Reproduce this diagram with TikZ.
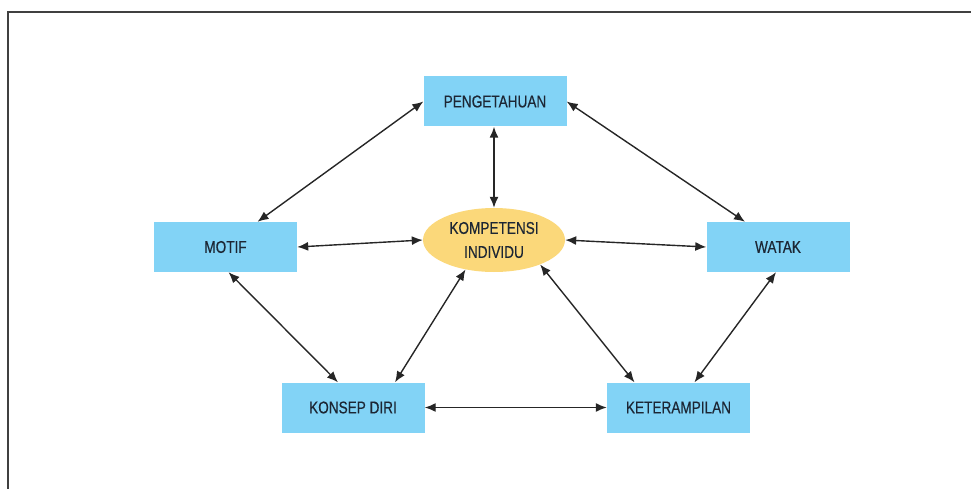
\documentclass[tikz,border=0pt]{standalone}
\usepackage{fontspec}
\newfontfamily\boxfont[FakeStretch=0.8,FakeBold=0.4]{Liberation Sans}
\usepackage{tikz}
\usetikzlibrary{shapes,arrows.meta,calc}
\definecolor{boxblue}{RGB}{130,211,246}
\definecolor{corey}{RGB}{251,216,122}
\definecolor{inkdark}{RGB}{28,38,52}
\newcommand{\lbl}{\boxfont\fontsize{17}{24}\selectfont}

\begin{document}
\begin{tikzpicture}[x=1pt, y=-1pt,
  kotak/.style={rectangle, fill=boxblue, minimum width=143pt, minimum height=50pt, inner sep=0pt, text=inkdark, font=\lbl},
  inti/.style={ellipse, fill=corey, minimum width=142pt, minimum height=64pt, inner sep=0pt, text=inkdark, font=\lbl, align=center},
  panah/.style={{Latex[length=11pt,width=9pt]}-{Latex[length=11pt,width=9pt]}, line width=1.4pt, black!85}]
\useasboundingbox (0,0) rectangle (971,489);
% bingkai
\draw[line width=1.5pt, black!75] (971,12) -- (8,12) -- (8,489);

\node[kotak] (peng) at (495,101.5) {PENGETAHUAN};
\node[kotak] (motif) at (225.5,247) {MOTIF};
\node[kotak] (watak) at (778,247) {WATAK};
\node[kotak] (konsep) at (353,407.5) {KONSEP DIRI};
\node[kotak] (terampil) at (678.5,407.5) {KETERAMPILAN};
\node[inti] (komp) at (494,240) {KOMPETENSI\\INDIVIDU};

% panah
\draw[panah] (peng.west) -- ($(motif.north)+(32,0)$);
\draw[panah] (peng.east) -- ($(watak.north)+(-33,0)$);
\draw[panah] (peng.south -| komp.north) -- (komp.north);
\draw[panah] (motif.east) -- (komp.west);
\draw[panah] (komp.east) -- (watak.west);
\draw[panah] ($(motif.south)+(3,0)$) -- ($(konsep.north)+(-15,0)$);
\draw[panah] (komp.226) -- ($(konsep.north)+(42,0)$);
\draw[panah] (komp.-28) -- ($(terampil.north)+(-44,0)$);
\draw[panah] ($(watak.south)+(-2,0)$) -- ($(terampil.north)+(16,0)$);
\draw[panah] (konsep.east) -- (terampil.west);
\end{tikzpicture}
\end{document}
